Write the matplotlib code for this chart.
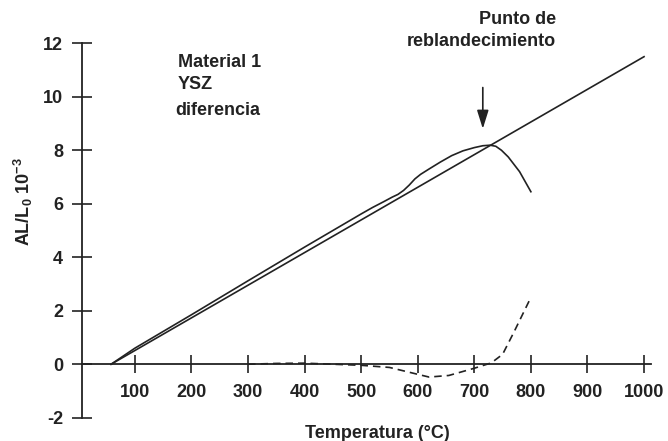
"""Dilatometria: Material 1 YSZ, curva, recta y diferencia."""

import matplotlib

matplotlib.use("Agg")
import matplotlib.pyplot as plt

# straight reference line
line_x = [58, 1000]
line_y = [0.0, 11.5]

# measured curve (solid)
curve_x = [58, 100, 200, 300, 400, 500, 520, 540, 555, 565, 575, 585, 595, 605, 620, 640,
           660, 680, 700, 715, 728, 738, 748, 760, 780, 800]
curve_y = [0.0, 0.6, 1.85, 3.12, 4.38, 5.62, 5.86, 6.08, 6.25, 6.35, 6.5, 6.7, 6.93, 7.1, 7.3, 7.56,
           7.8, 7.98, 8.1, 8.17, 8.19, 8.15, 8.0, 7.75, 7.2, 6.45]

# difference (dashed)
diff_x = [300, 350, 400, 450, 500, 550, 585, 620, 655, 700, 730, 750, 770, 785, 800]
diff_y = [0.0, 0.03, 0.04, 0.0, -0.04, -0.12, -0.3, -0.48, -0.42, -0.15, 0.05, 0.37, 1.2, 1.85, 2.5]

x_ticks = [100, 200, 300, 400, 500, 600, 700, 800, 900, 1000]
y_ticks = [-2, 0, 2, 4, 6, 8, 10, 12]

plt.rcParams["font.family"] = ["Liberation Sans", "DejaVu Sans"]
plt.rcParams["font.weight"] = "bold"
plt.rcParams["axes.unicode_minus"] = False
plt.rcParams["mathtext.fontset"] = "custom"
plt.rcParams["mathtext.rm"] = "Liberation Sans:bold"
plt.rcParams["mathtext.default"] = "rm"

ink = "#222222"
fs = 13
fig = plt.figure(figsize=(6.68, 4.41), dpi=100)
ax = fig.add_axes([0.1223, 0.0528, 0.8520, 0.8490])

ax.plot(line_x, line_y, color=ink, lw=1.2, clip_on=False)
ax.plot(curve_x, curve_y, color=ink, lw=1.2, clip_on=False)
ax.plot(diff_x, diff_y, color=ink, lw=1.2, dashes=(4.5, 3), clip_on=False)

ax.set_xlim(6, 1012)
ax.set_ylim(-2, 12)
for side in ("top", "right"):
    ax.spines[side].set_visible(False)
ax.spines["bottom"].set_position(("data", 0))
for side in ("left", "bottom"):
    ax.spines[side].set_linewidth(1.3)
    ax.spines[side].set_color(ink)

ax.set_xticks(x_ticks)
ax.set_yticks(y_ticks)
ax.tick_params(axis="y", direction="inout", length=15, width=1.2, color=ink,
               labelsize=fs, labelcolor=ink, pad=6)
ax.tick_params(axis="x", direction="inout", length=12.5, width=1.2, color=ink,
               labelsize=fs, labelcolor=ink, pad=8)

ax.text(176, 11.3, "Material 1", fontsize=fs, color=ink, va="center")
ax.text(176, 10.45, "YSZ", fontsize=fs, color=ink, va="center")
ax.text(172, 9.5, "diferencia", fontsize=fs, color=ink, va="center")
ax.text(844, 12.9, "Punto de", fontsize=fs, color=ink, ha="right", va="center")
ax.text(844, 12.06, "reblandecimiento", fontsize=fs, color=ink, ha="right", va="center")
ax.annotate("", xy=(715, 8.7), xytext=(715, 10.45),
            arrowprops=dict(arrowstyle="-|>,head_width=0.25,head_length=0.8",
                            color=ink, lw=1.2, mutation_scale=14))

fig.text(377 / 668, 1 - 433 / 441, "Temperatura (°C)", fontsize=fs, color=ink,
         ha="center", va="center")
fig.text(23 / 668, 1 - 202 / 441, r"AL/L$_{0}$ 10$^{-3}$", fontsize=fs, color=ink,
         ha="center", va="center", rotation=90)

fig.savefig("out.png", dpi=100)
